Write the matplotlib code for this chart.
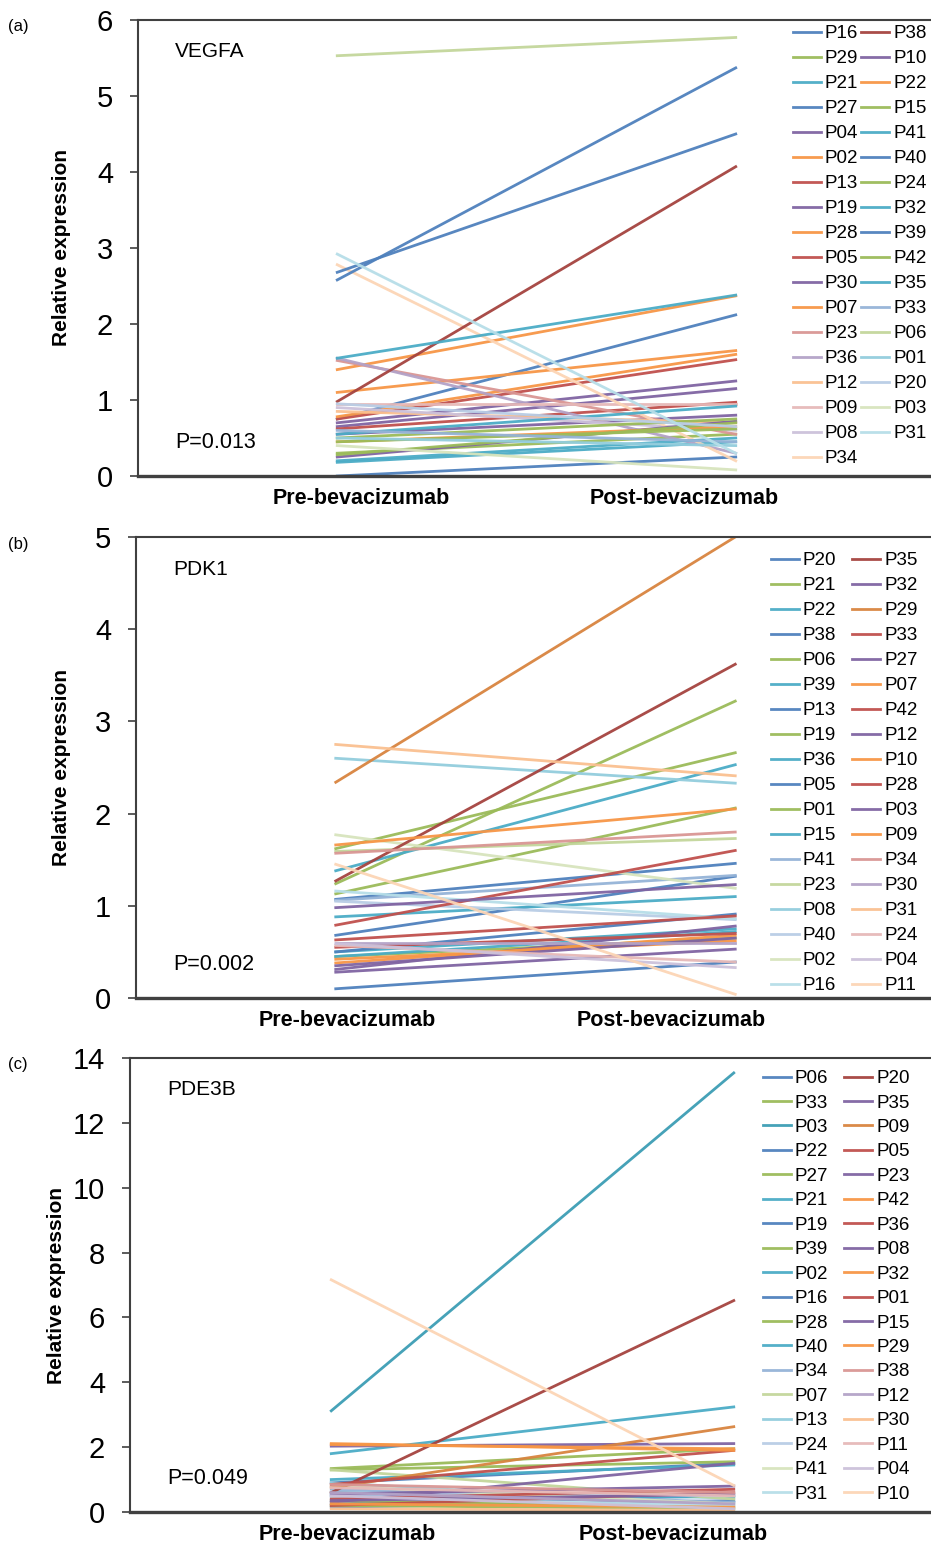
import matplotlib.pyplot as plt
import numpy as np

plt.rcParams['font.family'] = ['Liberation Sans', 'DejaVu Sans']

groups = ['Pre-bevacizumab', 'Post-bevacizumab']

# (a) VEGFA -- legend read column by column
vegfa_names = ['P16', 'P29', 'P21', 'P27', 'P04', 'P02', 'P13', 'P19', 'P28',
               'P05', 'P30', 'P07', 'P23', 'P36', 'P12', 'P09', 'P08', 'P34',
               'P38', 'P10', 'P22', 'P15', 'P41', 'P40', 'P24', 'P32', 'P39',
               'P42', 'P35', 'P33', 'P06', 'P01', 'P20', 'P03', 'P31']
vegfa_pre = [0.00, 0.30, 0.18, 0.75, 0.70, 1.40, 0.75, 0.65, 1.10,
             0.62, 0.55, 0.78, 1.52, 1.55, 0.85, 0.95, 0.90, 2.78,
             0.98, 0.25, 0.45, 0.28, 0.20, 2.58, 0.50, 0.55, 2.68,
             0.45, 1.55, 0.60, 5.53, 0.50, 0.95, 0.40, 2.92]
vegfa_post = [0.25, 0.55, 0.45, 2.12, 1.25, 2.37, 1.53, 1.15, 1.65,
              0.97, 0.80, 1.60, 0.55, 0.30, 0.70, 0.95, 0.60, 0.20,
              4.07, 0.72, 0.65, 0.70, 0.50, 5.37, 0.75, 0.92, 4.50,
              0.62, 2.38, 0.45, 5.77, 0.40, 0.65, 0.08, 0.30]
vegfa_shade = ['blue', 'green', 'aqua', 'blue', 'purple', 'orange', 'red', 'purple', 'orange',
               'red', 'purple', 'orange', 'red+', 'purple+', 'orange+', 'red++', 'purple++', 'orange++',
               'dred', 'purple', 'orange', 'green', 'aqua', 'blue', 'green', 'aqua', 'blue',
               'green', 'aqua', 'blue+', 'green+', 'aqua+', 'blue++', 'green++', 'aqua++']

# (b) PDK1
pdk1_names = ['P20', 'P21', 'P22', 'P38', 'P06', 'P39', 'P13', 'P19', 'P36',
              'P05', 'P01', 'P15', 'P41', 'P23', 'P08', 'P40', 'P02', 'P16',
              'P35', 'P32', 'P29', 'P33', 'P27', 'P07', 'P42', 'P12', 'P10',
              'P28', 'P03', 'P09', 'P34', 'P30', 'P31', 'P24', 'P04', 'P11']
pdk1_pre = [0.10, 1.24, 1.38, 0.68, 1.13, 0.88, 1.07, 1.62, 0.50,
            0.50, 0.45, 0.45, 1.06, 1.59, 2.60, 1.05, 1.77, 1.16,
            1.27, 0.31, 2.34, 0.79, 0.98, 0.38, 0.63, 0.28, 0.42,
            0.55, 0.35, 1.66, 1.57, 0.60, 2.75, 0.57, 0.59, 1.45]
pdk1_post = [0.39, 3.22, 2.53, 1.32, 2.06, 1.10, 1.46, 2.66, 0.75,
             0.91, 0.65, 0.72, 1.33, 1.73, 2.33, 0.85, 1.19, 0.86,
             3.62, 0.78, 5.00, 1.60, 1.23, 0.68, 0.89, 0.53, 0.62,
             0.70, 0.65, 2.05, 1.80, 0.60, 2.41, 0.39, 0.33, 0.04]
pdk1_shade = ['blue', 'green', 'aqua', 'blue', 'green', 'aqua', 'blue', 'green', 'aqua',
              'blue', 'green', 'aqua', 'blue+', 'green+', 'aqua+', 'blue++', 'green++', 'aqua++',
              'dred', 'purple', 'dorange', 'red', 'purple', 'orange', 'red', 'purple', 'orange',
              'red', 'purple', 'orange', 'red+', 'purple+', 'orange+', 'red++', 'purple++', 'orange++']

# (c) PDE3B
pde3b_names = ['P06', 'P33', 'P03', 'P22', 'P27', 'P21', 'P19', 'P39', 'P02',
               'P16', 'P28', 'P40', 'P34', 'P07', 'P13', 'P24', 'P41', 'P31',
               'P20', 'P35', 'P09', 'P05', 'P23', 'P42', 'P36', 'P08', 'P32',
               'P01', 'P15', 'P29', 'P38', 'P12', 'P30', 'P11', 'P04', 'P10']
pde3b_pre = [0.15, 1.34, 3.12, 0.90, 1.30, 1.80, 0.25, 0.35, 1.00,
             0.50, 0.20, 0.60, 0.70, 1.30, 0.90, 0.55, 0.80, 0.45,
             0.60, 2.03, 0.75, 0.85, 0.30, 2.11, 0.40, 0.55, 2.08,
             0.20, 0.35, 0.25, 0.85, 0.60, 0.10, 0.75, 0.50, 7.16]
pde3b_post = [0.35, 1.95, 13.54, 1.50, 1.55, 3.24, 0.50, 0.15, 1.45,
              0.30, 0.10, 0.45, 0.30, 0.40, 0.20, 0.50, 0.25, 0.20,
              6.52, 2.11, 2.63, 1.90, 1.50, 1.90, 0.70, 0.80, 1.95,
              0.60, 0.55, 0.15, 0.60, 0.25, 0.05, 0.50, 0.10, 0.82]
pde3b_shade = ['blue', 'green', 'daqua', 'blue', 'green', 'aqua', 'blue', 'green', 'aqua',
               'blue', 'green', 'aqua', 'blue+', 'green+', 'aqua+', 'blue++', 'green++', 'aqua++',
               'dred', 'purple', 'dorange', 'red', 'purple', 'orange', 'red', 'purple', 'orange',
               'red', 'purple', 'orange', 'red+', 'purple+', 'orange+', 'red++', 'purple++', 'orange++']

palette = {'blue': '#4F81BD', 'red': '#C0504D', 'green': '#9BBB59', 'purple': '#8064A2',
           'aqua': '#4BACC6', 'orange': '#F79646', 'dred': '#A5433F',
           'dorange': '#D8843F', 'daqua': '#3C9DB4'}


def colour(key):
    lvl = key.count('+')
    rgb = np.array(plt.matplotlib.colors.to_rgb(palette[key.rstrip('+')]))
    t = [0.0, 0.4, 0.6][lvl]
    return rgb + (1 - rgb) * t


W, H = 931, 1545
fig = plt.figure(figsize=(W / 100, H / 100), dpi=100)


def px(x, y):
    return x / W, 1 - y / H


def panel(left, top, bottom, names, pre, post, shades, ymax, ystep,
          gene, pval, tag, leg_xy, colsp, lsp, ylab_x, tick_pos):
    ax = fig.add_axes([left / W, 1 - bottom / H, 1 - left / W, (bottom - top) / H])
    for n, a, b, s in zip(names, pre, post, shades):
        ax.plot([0, 1], [a, b], color=colour(s), lw=2.0, label=n, alpha=0.95)
    ax.set_xlim(-0.5, 1.49)
    ax.set_ylim(0, ymax)
    ax.set_yticks(np.arange(0, ymax + 0.01, ystep))
    ax.set_xticks(tick_pos)
    ax.set_xticklabels(groups, fontsize=15.5, fontweight='bold')
    ax.tick_params(axis='x', length=0, pad=9)
    ax.tick_params(axis='y', labelsize=21, length=6, width=1.2, color='#404040', pad=12)
    for side in ['left', 'top', 'bottom']:
        ax.spines[side].set_color('#404040')
        ax.spines[side].set_linewidth(1.5)
    ax.spines['bottom'].set_linewidth(2.4)
    ax.spines['right'].set_visible(False)
    ax.text(0.047, 0.93, gene, transform=ax.transAxes, fontsize=15, va='center')
    ax.text(0.047, 0.073, pval, transform=ax.transAxes, fontsize=15.5, va='center')
    fig.text(*px(8, top + 7), tag, fontsize=12, va='center')
    fig.text(*px(ylab_x, (top + bottom) / 2), 'Relative expression', rotation=90,
             fontsize=15, fontweight='bold', ha='center', va='center')
    ax.legend(loc='upper left', bbox_to_anchor=px(*leg_xy), bbox_transform=fig.transFigure,
              ncol=2, frameon=False, fontsize=13.5, handlelength=1.5, handletextpad=0.2,
              columnspacing=colsp, labelspacing=lsp, borderpad=0, borderaxespad=0)
    return ax


panel(138, 20, 476, vegfa_names, vegfa_pre, vegfa_post, vegfa_shade, 6, 1,
      'VEGFA', 'P=0.013', '(a)', (793, 25), 0.15, 0.42, 62, [0.06, 0.87])
panel(136, 537, 998, pdk1_names, pdk1_pre, pdk1_post, pdk1_shade, 5, 1,
      'PDK1', 'P=0.002', '(b)', (771, 552), 0.85, 0.42, 62, [0.03, 0.84])
panel(130, 1058, 1512, pde3b_names, pde3b_pre, pde3b_post, pde3b_shade, 14, 2,
      'PDE3B', 'P=0.049', '(c)', (763, 1070), 0.85, 0.39, 57, [0.04, 0.85])

fig.savefig('out.png', dpi=100)
